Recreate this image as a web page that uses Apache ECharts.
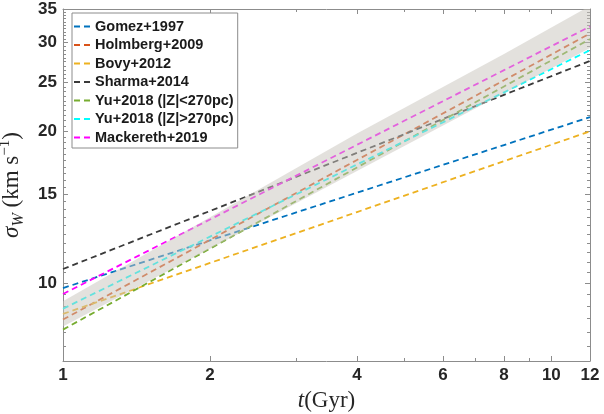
<!DOCTYPE html>
<html>
<head>
<meta charset="utf-8">
<script src="https://cdn.jsdelivr.net/npm/echarts@6.0.0/dist/echarts.min.js"></script>
<style>
  html, body { margin: 0; padding: 0; background: #ffffff; }
  #chart { width: 604px; height: 414px; }
</style>
</head>
<body>
<div id="chart"></div>
<script>
// Age (Gyr) at which each relation is sampled
const ages = [1, 2, 4, 8, 12];

// Vertical velocity dispersion sigma_W (km/s) for each age-velocity relation
const gomez1997      = [9.77, 12.15, 15.11, 18.79, 21.35];
const holmberg2009   = [8.46, 12.18, 17.55, 25.26, 31.3];
const bovy2012       = [8.68, 10.96, 13.83, 17.46, 20.0];
const sharma2014     = [10.66, 13.9, 18.13, 23.64, 27.6];
const yu2018Inner    = [8.08, 11.70, 16.96, 24.56, 30.5];
const yu2018Outer    = [8.89, 12.36, 17.19, 23.91, 29.0];
const mackereth2019  = [9.51, 13.37, 18.81, 26.46, 32.3];

// Shaded range of the fitted relation
const bandLow  = [8.2, 11.7, 16.69, 23.8, 29.3];
const bandHigh = [9.2, 13.5, 19.8, 28.5, 35.5];

// Axis ticks
const xMajorTicks = [1, 2, 4, 6, 8, 10, 12];
const xMinorTicks = [3, 5, 7, 9];
const yMajorTicks = [10, 15, 20, 25, 30, 35];
const yMinorTicks = [7.5, 8, 8.5, 9, 9.5, 10.5, 11, 11.5, 12, 12.5, 13, 13.5, 14, 14.5,
  15.5, 16, 16.5, 17, 17.5, 18, 18.5, 19, 19.5, 20.5, 21, 21.5, 22, 22.5, 23, 23.5, 24, 24.5,
  25.5, 26, 26.5, 27, 27.5, 28, 28.5, 29, 29.5, 30.5, 31, 31.5, 32, 32.5, 33, 33.5, 34, 34.5];

const seriesDefs = [
  { name: 'Gomez+1997',            values: gomez1997,     color: '#0072BD' },
  { name: 'Holmberg+2009',         values: holmberg2009,  color: '#D95319' },
  { name: 'Bovy+2012',             values: bovy2012,      color: '#EDB120' },
  { name: 'Sharma+2014',           values: sharma2014,    color: '#3a3a3a' },
  { name: 'Yu+2018 (|Z|<270pc)',   values: yu2018Inner,   color: '#77AC30' },
  { name: 'Yu+2018 (|Z|>270pc)',   values: yu2018Outer,   color: '#00FFFF' },
  { name: 'Mackereth+2019',        values: mackereth2019, color: '#FF00FF' }
];

const AXIS_COLOR = '#8c8c8c';
const TEXT_COLOR = '#262626';
const X_MIN = 1, X_MAX = 12, Y_MIN = 7, Y_MAX = 35;

// Two short dashes used as the legend key
const DASH_ICON = 'path://M0,0 L6,0 L6,2 L0,2 Z M10,0 L16,0 L16,2 L10,2 Z';

function xAxisDef(position, ticks, tickLen, withLine, withLabels) {
  const ax = {
    type: 'log', logBase: 10, min: X_MIN, max: X_MAX, position: position,
    axisLine: { show: withLine, lineStyle: { color: AXIS_COLOR, width: 1 } },
    axisTick: { show: true, inside: true, length: tickLen, customValues: ticks,
                lineStyle: { color: AXIS_COLOR, width: 1 } },
    axisLabel: { show: withLabels },
    splitLine: { show: false },
    minorTick: { show: false }, minorSplitLine: { show: false }
  };
  if (withLabels) {
    ax.axisLabel = {
      show: true, customValues: xMajorTicks, margin: 6,
      fontFamily: 'Liberation Sans', fontWeight: 'bold', fontSize: 17, color: TEXT_COLOR
    };
    ax.name = '{i|t}{n|(Gyr)}';
    ax.nameLocation = 'middle';
    ax.nameGap = 28;
    ax.nameTextStyle = {
      rich: {
        i: { fontFamily: 'Liberation Serif', fontStyle: 'italic', fontSize: 23, color: TEXT_COLOR },
        n: { fontFamily: 'Liberation Serif', fontSize: 23, color: TEXT_COLOR }
      }
    };
  }
  return ax;
}

function yAxisDef(position, ticks, tickLen, withLine, withLabels) {
  const ax = {
    type: 'log', logBase: 10, min: Y_MIN, max: Y_MAX, position: position,
    axisLine: { show: withLine, lineStyle: { color: AXIS_COLOR, width: 1 } },
    axisTick: { show: true, inside: true, length: tickLen, customValues: ticks,
                lineStyle: { color: AXIS_COLOR, width: 1 } },
    axisLabel: { show: withLabels },
    splitLine: { show: false },
    minorTick: { show: false }, minorSplitLine: { show: false }
  };
  if (withLabels) {
    ax.axisLabel = {
      show: true, customValues: yMajorTicks, margin: 6,
      fontFamily: 'Liberation Sans', fontWeight: 'bold', fontSize: 17, color: TEXT_COLOR
    };
    ax.name = '{i|σ}{sub|W}{n| (km s}{sup|−1}{n|)}';
    ax.nameLocation = 'middle';
    ax.nameRotate = 90;
    ax.nameGap = 31;
    ax.nameTextStyle = {
      rich: {
        i:   { fontFamily: 'Liberation Serif', fontStyle: 'italic', fontSize: 23, lineHeight: 30, color: TEXT_COLOR },
        sub: { fontFamily: 'Liberation Serif', fontStyle: 'italic', fontSize: 16, lineHeight: 30, verticalAlign: 'bottom', color: TEXT_COLOR },
        n:   { fontFamily: 'Liberation Serif', fontSize: 23, lineHeight: 30, color: TEXT_COLOR },
        sup: { fontFamily: 'Liberation Serif', fontSize: 15, lineHeight: 30, verticalAlign: 'top', color: TEXT_COLOR }
      }
    };
  }
  return ax;
}

const lineSeries = seriesDefs.map(function (d) {
  return {
    name: d.name,
    type: 'line',
    xAxisIndex: 0, yAxisIndex: 0,
    data: ages.map(function (t, i) { return [t, d.values[i]]; }),
    symbol: 'none',
    showSymbol: false,
    color: d.color,
    itemStyle: { color: d.color },
    lineStyle: { color: d.color, width: 1.8, type: [6, 4] },
    z: 2
  };
});

// Translucent range drawn over the lines
const bandSeries = {
  name: 'band',
  type: 'custom',
  xAxisIndex: 0, yAxisIndex: 0,
  clip: true,
  silent: true,
  z: 3,
  data: ages.map(function (t, i) { return [t, bandLow[i], bandHigh[i]]; }),
  encode: { x: 0, y: [1, 2] },
  renderItem: function (params, api) {
    if (params.dataIndex !== 0) return null;
    const pts = [];
    for (let i = 0; i < ages.length; i++) pts.push(api.coord([ages[i], bandHigh[i]]));
    for (let i = ages.length - 1; i >= 0; i--) pts.push(api.coord([ages[i], bandLow[i]]));
    const cs = params.coordSys;
    return {
      type: 'polygon',
      shape: { points: pts },
      style: { fill: 'rgba(200,196,188,0.5)', stroke: null },
      clipPath: { type: 'rect', shape: { x: cs.x, y: cs.y, width: cs.width, height: cs.height } }
    };
  }
};

const chart = echarts.init(document.getElementById('chart'), null, { renderer: 'canvas' });
chart.setOption({
  animation: false,
  backgroundColor: '#ffffff',
  grid: { left: 63, right: 14, top: 9, bottom: 53, containLabel: false, outerBoundsMode: 'none' },
  legend: {
    orient: 'vertical',
    left: 72, top: 13,
    data: seriesDefs.map(function (d) { return d.name; }),
    icon: DASH_ICON,
    backgroundColor: '#ffffff',
    borderColor: '#8c8c8c', borderWidth: 1,
    padding: [6, 4, 3, 2],
    itemGap: 3.5,
    itemWidth: 16, itemHeight: 14,
    textStyle: { fontFamily: 'Liberation Sans', fontWeight: 'bold', fontSize: 14.5, color: '#1a1a1a' },
    selectedMode: false
  },
  xAxis: [
    xAxisDef('bottom', xMajorTicks, 5, true, true),
    xAxisDef('bottom', xMinorTicks, 3, false, false),
    xAxisDef('top', xMajorTicks, 5, true, false),
    xAxisDef('top', xMinorTicks, 3, false, false)
  ],
  yAxis: [
    yAxisDef('left', yMajorTicks, 5, true, true),
    yAxisDef('left', yMinorTicks, 3, false, false),
    yAxisDef('right', yMajorTicks, 5, true, false),
    yAxisDef('right', yMinorTicks, 3, false, false)
  ],
  series: lineSeries.concat([bandSeries])
});
</script>
</body>
</html>
